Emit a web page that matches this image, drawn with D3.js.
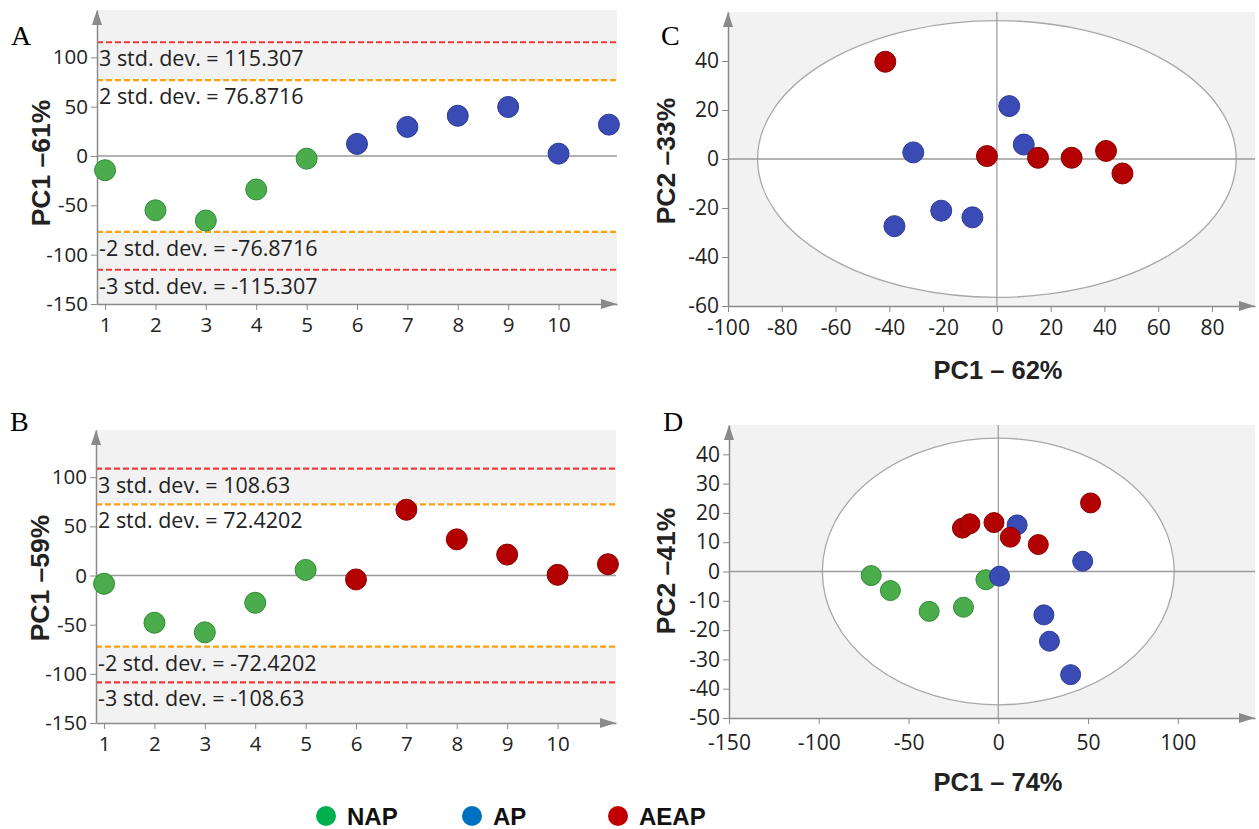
<!DOCTYPE html>
<html>
<head>
<meta charset="utf-8" />
<script src="https://d3js.org/d3.v7.min.js"></script>
<style>
  body { margin: 0; background: #fff; }
  .tick text { font-family: "Open Sans", sans-serif; fill: #222; }
</style>
</head>
<body>
<svg id="fig" width="1259" height="829"></svg>
<script>
// values
const sampleNo = [1, 2, 3, 4, 5, 6, 7, 8, 9, 10, 11];
const pc1A = [-14.4, -55, -65.4, -33.9, -2.7, 12.3, 29.5, 40.8, 49.7, 2.4, 31.8];
const groupA = ["NAP", "NAP", "NAP", "NAP", "NAP", "AP", "AP", "AP", "AP", "AP", "AP"];
const pc1B = [-8.4, -48, -57.8, -27.7, 5.7, -4, 66.9, 36.8, 21.3, 0.7, 11.5];
const groupB = ["NAP", "NAP", "NAP", "NAP", "NAP", "AEAP", "AEAP", "AEAP", "AEAP", "AEAP", "AEAP"];
const stdA = [115.307, 76.8716];
const stdB = [108.63, 72.4202];

const apC1 = [4.6, 10, -31.1, -38.1, -20.7, -9.1];
const apC2 = [21.6, 5.9, 2.7, -27.4, -21.1, -23.8];
const aeapC1 = [-41.5, -3.7, 15.3, 27.8, 40.6, 46.7];
const aeapC2 = [39.7, 1.2, 0.5, 0.5, 3.3, -5.9];

const napD1 = [-70.8, -60.1, -38.5, -19.4, -6.9];
const napD2 = [-1.4, -6.5, -13.6, -12.2, -2.8];
const apD1 = [0.7, 10.5, 47, 25.4, 28.5, 40.3];
const apD2 = [-1.6, 15.9, 3.5, -14.8, -23.8, -35.2];
const aeapD1 = [-20, -15.8, -2.4, 6.7, 22.3, 51.4];
const aeapD2 = [14.8, 16.3, 16.7, 11.7, 9.2, 23.4];

const legendNames = ["NAP", "AP", "AEAP"];
const legendColors = ["#00b050", "#0070c0", "#c00000"];

const fill = { NAP: "#4bac4b", AP: "#3a4bb6", AEAP: "#b30000" };
const edge = { NAP: "#2f8a34", AP: "#2b3a92", AEAP: "#8c0000" };

const svg = d3.select("#fig");
const axisCol = "#8a8a8a";
const bg = "#f2f2f2";

function drawAxes(g, x, y, xMajor, xMinor, yMajor, yMinor, x0, y0, xLabelled, fs, xPad) {
  const fmt = d => String(d);
  const ya = g.append("g").attr("transform", `translate(${x0},0)`);
  ya.call(d3.axisLeft(y).tickValues(yMinor).tickSize(3).tickFormat("").tickSizeOuter(0));
  ya.call(d3.axisLeft(y).tickValues(yMajor).tickSize(6).tickPadding(3).tickFormat(fmt).tickSizeOuter(0));
  const xa = g.append("g").attr("transform", `translate(0,${y0})`);
  xa.call(d3.axisBottom(x).tickValues(xMinor).tickSize(3).tickFormat("").tickSizeOuter(0));
  xa.call(d3.axisBottom(x).tickValues(xMajor).tickSize(6).tickPadding(xPad)
    .tickFormat(d => xLabelled.includes(d) ? fmt(d) : "").tickSizeOuter(0));
  g.selectAll(".domain").attr("stroke", axisCol).attr("stroke-width", 1.5);
  g.selectAll(".tick line").attr("stroke", axisCol);
  g.selectAll(".tick text").attr("font-size", fs);

  // arrow heads
  const top = y.range()[1], right = x.range()[1];
  g.append("path").attr("d", `M${x0},${top} l-5,15 l10,0 z`).attr("fill", axisCol);
  g.append("path").attr("d", `M${right},${y0} l-16,-5 l0,10 z`).attr("fill", axisCol);
}

function dot(g, x, y, xs, ys, grp, r) {
  g.selectAll(null).data(xs.map((v, i) => [v, ys[i], grp[i]])).join("circle")
    .attr("cx", d => x(d[0])).attr("cy", d => y(d[1])).attr("r", r)
    .attr("fill", d => fill[d[2]]).attr("stroke", d => edge[d[2]]).attr("stroke-width", 1);
}

function panelLetter(t, px, py) {
  svg.append("text").attr("x", px).attr("y", py).text(t)
    .attr("font-family", "Liberation Serif, serif").attr("font-size", 28);
}

function yTitle(t, px, py) {
  svg.append("text").attr("transform", `translate(${px},${py}) rotate(-90)`)
    .attr("text-anchor", "middle").attr("dy", "0.35em")
    .attr("font-family", "Liberation Sans, Arial, sans-serif").attr("font-weight", "bold")
    .attr("font-size", 26.5).attr("fill", "#222").text(t);
}

function xTitle(t, px, py) {
  svg.append("text").attr("x", px).attr("y", py).attr("text-anchor", "middle")
    .attr("font-family", "Liberation Sans, Arial, sans-serif").attr("font-weight", "bold")
    .attr("font-size", 25.5).attr("fill", "#222").text(t);
}

// A and B: score index plots with std. dev. limits
function indexPanel(vals, grp, sd, left, right, top, bottom) {
  const g = svg.append("g");
  const x = d3.scaleLinear().domain([0.84, 11.16]).range([left, right]);
  const y = d3.scaleLinear().domain([-150, 148]).range([bottom, top]);
  g.append("rect").attr("x", left).attr("y", top).attr("width", right - left)
    .attr("height", bottom - top).attr("fill", bg);
  g.append("rect").attr("x", left).attr("y", y(sd[1])).attr("width", right - left)
    .attr("height", y(-sd[1]) - y(sd[1])).attr("fill", "#fff");
  g.append("line").attr("x1", left).attr("x2", right).attr("y1", y(0)).attr("y2", y(0))
    .attr("stroke", "#9a9a9a").attr("stroke-width", 1.5);

  const lims = [
    { v: sd[0], c: "#f03a3a", t: `3 std. dev. = ${sd[0]}` },
    { v: sd[1], c: "#ffa010", t: `2 std. dev. = ${sd[1]}` },
    { v: -sd[1], c: "#ffa010", t: `-2 std. dev. = -${sd[1]}` },
    { v: -sd[0], c: "#f03a3a", t: `-3 std. dev. = -${sd[0]}` }
  ];
  lims.forEach(l => {
    g.append("line").attr("x1", left).attr("x2", right).attr("y1", y(l.v)).attr("y2", y(l.v))
      .attr("stroke", l.c).attr("stroke-width", 2.2).attr("stroke-dasharray", "6,3");
    g.append("text").attr("x", left + 2).attr("y", y(l.v) + 24).text(l.t)
      .attr("font-family", "Open Sans, sans-serif").attr("font-size", 21.5).attr("fill", "#222");
  });

  const minorY = d3.range(-140, 141, 10).filter(v => v % 50 !== 0);
  drawAxes(g, x, y, sampleNo.slice(0, 10), d3.range(1.5, 11, 1).concat([11]),
    [-150, -100, -50, 0, 50, 100], minorY, left, bottom, sampleNo.slice(0, 10), 20.5, 7);
  dot(g, x, y, sampleNo, vals, grp, 10.5);
}

// C and D: score plots with Hotelling ellipse
function scorePanel(sets, xDom, yDom, ell, xMajor, xMinStep, yMajor, yMinStep, left, right, top, bottom, r, xPad) {
  const g = svg.append("g");
  const x = d3.scaleLinear().domain(xDom).range([left, right]);
  const y = d3.scaleLinear().domain(yDom).range([bottom, top]);
  g.append("rect").attr("x", left).attr("y", top).attr("width", right - left)
    .attr("height", bottom - top).attr("fill", bg);
  g.append("ellipse").attr("cx", x(0)).attr("cy", y(0))
    .attr("rx", x(ell[0]) - x(0)).attr("ry", y(0) - y(ell[1]))
    .attr("fill", "#fff").attr("stroke", "#a8a8a8").attr("stroke-width", 1.3);
  g.append("line").attr("x1", left).attr("x2", right).attr("y1", y(0)).attr("y2", y(0))
    .attr("stroke", "#9a9a9a").attr("stroke-width", 1.5);
  g.append("line").attr("x1", x(0)).attr("x2", x(0)).attr("y1", top).attr("y2", bottom)
    .attr("stroke", "#9a9a9a").attr("stroke-width", 1.2);
  const xMinor = d3.range(xDom[0], xDom[1], xMinStep);
  const yMinor = d3.range(yDom[0], yDom[1], yMinStep);
  drawAxes(g, x, y, xMajor, xMinor, yMajor, yMinor, left, bottom, xMajor, 21, xPad);
  sets.forEach(s => dot(g, x, y, s[0], s[1], s[0].map(() => s[2]), r));
}

indexPanel(pc1A, groupA, stdA, 97, 617, 10, 304);
indexPanel(pc1B, groupB, stdB, 96, 616, 430, 723);

scorePanel([[apC1, apC2, "AP"], [aeapC1, aeapC2, "AEAP"]],
  [-100, 96], [-60, 60], [89, 56.5],
  d3.range(-100, 81, 20), 5, d3.range(-60, 41, 20), 5, 728, 1255, 12, 306, 10.5, 8);
scorePanel([[napD1, napD2, "NAP"], [apD1, apD2, "AP"], [aeapD1, aeapD2, "AEAP"]],
  [-150, 143], [-50, 50], [98, 45.5],
  [-150, -100, -50, 0, 50, 100], 10, d3.range(-50, 41, 10), 5, 729, 1255, 425, 718, 10, 11);

panelLetter("A", 11, 45);
panelLetter("B", 10, 431);
panelLetter("C", 661, 45);
panelLetter("D", 663, 431);

yTitle("PC1 \u201361%", 41, 163);
yTitle("PC1 \u201359%", 40, 578);
yTitle("PC2 \u201333%", 666, 161);
yTitle("PC2 \u201341%", 666, 571);
xTitle("PC1 \u2013 62%", 998, 379);
xTitle("PC1 \u2013 74%", 998, 791);

// legend
const lx = [326, 472, 618];
const leg = svg.append("g");
legendNames.forEach((n, i) => {
  leg.append("circle").attr("cx", lx[i]).attr("cy", 816).attr("r", 10).attr("fill", legendColors[i]);
  leg.append("text").attr("x", lx[i] + 21).attr("y", 825).text(n)
    .attr("font-family", "Liberation Sans, Arial, sans-serif").attr("font-weight", "bold")
    .attr("font-size", 24).attr("fill", "#111");
});
</script>
</body>
</html>
